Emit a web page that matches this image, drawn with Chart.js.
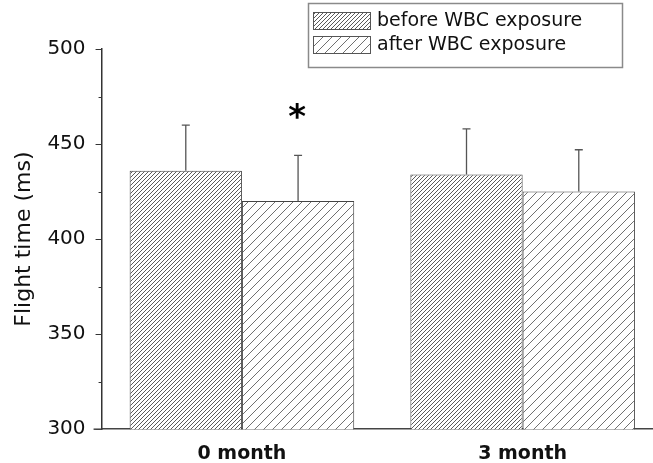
<!DOCTYPE html>
<html>
<head>
<meta charset="utf-8">
<script src="https://cdn.jsdelivr.net/npm/chart.js@4.4.1/dist/chart.umd.min.js"></script>
<style>
  html, body { margin: 0; padding: 0; background: #fff; overflow: hidden; }
  #wrap { width: 663px; height: 463px; position: relative; }
</style>
</head>
<body>
<div id="wrap"><canvas id="flight-chart"></canvas></div>
<script>
const categories = ['0 month', '3 month'];
const seriesLabels = ['before WBC exposure', 'after WBC exposure'];
const beforeValues = [436, 434];
const afterValues = [420, 425];
const beforeErrors = [24, 24];
const afterErrors = [24, 22];
const afterMarks = ['*', ''];
const yTicks = [300, 350, 400, 450, 500];

const FONT = "'DejaVu Sans', sans-serif";

function makeHatch(size, color, width) {
  const tile = document.createElement('canvas');
  tile.width = size;
  tile.height = size;
  const g = tile.getContext('2d');
  g.fillStyle = '#fff';
  g.fillRect(0, 0, size, size);
  g.strokeStyle = color;
  g.lineWidth = width;
  g.beginPath();
  g.moveTo(0, size); g.lineTo(size, 0);
  g.moveTo(-2, 2); g.lineTo(2, -2);
  g.moveTo(size - 2, size + 2); g.lineTo(size + 2, size - 2);
  g.stroke();
  return g.createPattern(tile, 'repeat');
}

const denseHatch = makeHatch(4, '#5a5a5a', 1);
const sparseHatch = makeHatch(9, '#707070', 1);

const errorBars = {
  id: 'errorBars',
  afterDatasetsDraw(chart) {
    const { ctx, scales: { y } } = chart;
    const errs = [beforeErrors, afterErrors];
    chart.data.datasets.forEach((ds, i) => {
      const meta = chart.getDatasetMeta(i);
      meta.data.forEach((bar, j) => {
        const top = y.getPixelForValue(ds.data[j] + errs[i][j]);
        ctx.save();
        ctx.strokeStyle = '#555';
        ctx.lineWidth = 1.3;
        ctx.beginPath();
        ctx.moveTo(bar.x, bar.y);
        ctx.lineTo(bar.x, top);
        ctx.moveTo(bar.x - 4, top);
        ctx.lineTo(bar.x + 4, top);
        ctx.stroke();
        if (i === 1 && afterMarks[j]) {
          ctx.fillStyle = '#000';
          ctx.font = 'bold 34px ' + FONT;
          ctx.textAlign = 'center';
          ctx.textBaseline = 'middle';
          ctx.fillText(afterMarks[j], bar.x - 1, top - 36);
        }
        ctx.restore();
      });
    });
  },
};

const axisExtras = {
  id: 'axisExtras',
  afterDraw(chart) {
    const { ctx, scales: { x, y } } = chart;
    ctx.save();
    ctx.strokeStyle = '#333';
    ctx.lineWidth = 1;
    for (let k = 0; k < yTicks.length - 1; k++) {
      const py = Math.round(y.getPixelForValue((yTicks[k] + yTicks[k + 1]) / 2)) + 0.5;
      ctx.beginPath();
      ctx.moveTo(y.right - 3, py);
      ctx.lineTo(y.right, py);
      ctx.stroke();
    }
    // x axis line runs a little past the y axis, as in the original
    ctx.strokeStyle = '#444';
    ctx.lineWidth = 1.5;
    ctx.beginPath();
    ctx.moveTo(y.right - 8, x.top);
    ctx.lineTo(y.right, x.top);
    ctx.stroke();
    ctx.restore();
  },
};

const boxLegend = {
  id: 'boxLegend',
  afterDraw(chart) {
    const { ctx } = chart;
    ctx.save();
    ctx.strokeStyle = '#8a8a8a';
    ctx.lineWidth = 1.5;
    ctx.strokeRect(308.5, 3.5, 314, 64);
    const fills = [denseHatch, sparseHatch];
    seriesLabels.forEach((label, i) => {
      const top = 12 + i * 24;
      ctx.fillStyle = fills[i];
      ctx.fillRect(313, top, 57, 17);
      ctx.strokeStyle = '#555';
      ctx.lineWidth = 1;
      ctx.strokeRect(313.5, top + 0.5, 57, 17);
      ctx.fillStyle = '#111';
      ctx.font = '19px ' + FONT;
      ctx.textBaseline = 'middle';
      ctx.fillText(label, 377, top + 9);
    });
    ctx.restore();
  },
};

new Chart(document.getElementById('flight-chart'), {
  type: 'bar',
  data: {
    labels: categories,
    datasets: [
      { label: seriesLabels[0], data: beforeValues, backgroundColor: denseHatch, borderColor: '#444', borderWidth: 1 },
      { label: seriesLabels[1], data: afterValues, backgroundColor: sparseHatch, borderColor: '#444', borderWidth: 1 },
    ],
  },
  options: {
    responsive: true,
    maintainAspectRatio: false,
    animation: false,
    devicePixelRatio: 1,
    layout: { padding: { left: 11, top: 49, right: 0, bottom: -15 } },
    datasets: { bar: { categoryPercentage: 0.8, barPercentage: 1.0 } },
    plugins: { legend: { display: false }, tooltip: { enabled: false } },
    scales: {
      x: {
        grid: { display: false, drawTicks: false },
        border: { display: true, color: '#444', width: 1.5 },
        ticks: { color: '#111', padding: 13, font: { family: FONT, size: 19, weight: 'bold' } },
      },
      y: {
        min: 300,
        max: 500,
        afterBuildTicks: (scale) => { scale.ticks = yTicks.map((v) => ({ value: v })); },
        grid: { drawOnChartArea: false, drawTicks: true, tickLength: 6, tickColor: '#333' },
        border: { display: true, color: '#333', width: 1.5 },
        ticks: { color: '#111', padding: 10, font: { family: FONT, size: 20 } },
        title: { display: true, text: 'Flight time (ms)', color: '#111', padding: { top: 0, bottom: 0 }, font: { family: FONT, size: 22 } },
      },
    },
  },
  plugins: [errorBars, axisExtras, boxLegend],
});
</script>
</body>
</html>
